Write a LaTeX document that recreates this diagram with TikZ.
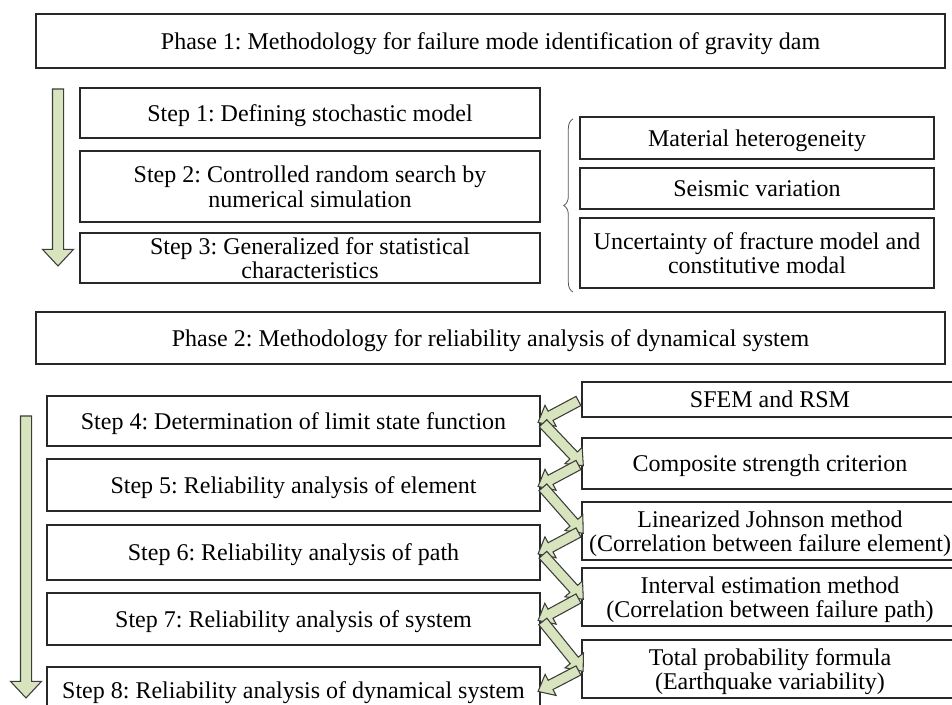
\documentclass[tikz,border=0pt]{standalone}
\usepackage{fontspec}
\setmainfont{Liberation Serif}
\usetikzlibrary{shapes.arrows,calc,decorations.pathreplacing}
\definecolor{arrgreen}{RGB}{215,228,189}
\definecolor{arrline}{RGB}{60,60,60}
\definecolor{boxline}{RGB}{40,40,40}
\tikzset{
  box/.style={draw=boxline, line width=1.2pt, fill=white, inner sep=0pt, text depth=0pt, align=center, font=\fontsize{18}{18.5}\selectfont},
  fatarrow/.style={single arrow, draw=arrline, fill=arrgreen, line width=0.8pt, inner xsep=0pt, inner ysep=3.5pt, single arrow head extend=5pt, single arrow tip angle=80},
  longarrow/.style={fatarrow, inner ysep=3.75pt, single arrow head extend=7.5pt, single arrow tip angle=86},
  bracket/.style={draw=black!65, line width=0.6pt, decorate, decoration={brace, amplitude=7pt}}
}
% fat arrow from #2 to #3, length and angle taken on the canvas (y is flipped)
\newcommand{\fatarr}[3][fatarrow]{\path let \p1=(#2), \p2=(#3), \n1={veclen(\x2-\x1,\y2-\y1)}, \n2={-atan2(\y2-\y1,\x2-\x1)} in node [#1, minimum height=\n1, rotate=\n2] at ($(#2)!0.5!(#3)$) {};}
\frenchspacing
\begin{document}
\begin{tikzpicture}[x=0.75pt,y=0.75pt,yscale=-1,xscale=1]
        \useasboundingbox (0,0) rectangle (952,704);
        % Phase 1
        \draw (490.5,41) node [box, minimum width=681.75pt, minimum height=40.5pt] (phase1) {Phase 1: Methodology for failure mode identification of gravity dam};
        % Steps 1-3
        \draw (310,113) node [box, minimum width=345pt, minimum height=37.5pt] (step1) {Step 1: Defining stochastic model};
        \draw (310,186.5) node [box, minimum width=345pt, minimum height=53.25pt] (step2) {Step 2: Controlled random search by\\numerical simulation};
        \draw (310,258) node [box, minimum width=345pt, minimum height=37.5pt] (step3) {Step 3: Generalized for statistical\\characteristics};
        % Sources of uncertainty
        \draw (757,138) node [box, minimum width=265.5pt, minimum height=31.5pt] (material) {Material heterogeneity};
        \draw (757,188.5) node [box, minimum width=265.5pt, minimum height=30.75pt] (seismic) {Seismic variation};
        \draw (757,253) node [box, minimum width=265.5pt, minimum height=52.5pt] (fracture) {Uncertainty of fracture model and\\constitutive modal};
        \draw [bracket] (573,292) -- (573,119);
        % Phase 2
        \draw (490.5,338) node [box, minimum width=681.75pt, minimum height=39pt] (phase2) {Phase 2: Methodology for reliability analysis of dynamical system};
        % Steps 4-8
        \draw (293.5,421) node [box, minimum width=369.75pt, minimum height=37.5pt] (step4) {Step 4: Determination of limit state function};
        \draw (293.5,485) node [box, minimum width=369.75pt, minimum height=39pt] (step5) {Step 5: Reliability analysis of element};
        \draw (293.5,552.5) node [box, minimum width=369.75pt, minimum height=41.25pt] (step6) {Step 6: Reliability analysis of path};
        \draw (293.5,619) node [box, minimum width=369.75pt, minimum height=39pt] (step7) {Step 7: Reliability analysis of system};
        \draw (293.5,690) node [box, minimum width=369.75pt, minimum height=34.5pt] (step8) {Step 8: Reliability analysis of dynamical system};
        % Methods
        \draw (770,399.5) node [box, minimum width=282pt, minimum height=26.25pt] (sfem) {SFEM and RSM};
        \draw (770,463.5) node [box, minimum width=282pt, minimum height=38.25pt] (strength) {Composite strength criterion};
        \draw (770,531) node [box, minimum width=282pt, minimum height=43.5pt] (johnson) {Linearized Johnson method\\(Correlation between failure element)};
        \draw (770,597) node [box, minimum width=282pt, minimum height=43.5pt] (interval) {Interval estimation method\\(Correlation between failure path)};
        \draw (770,669) node [box, minimum width=282pt, minimum height=43.5pt] (totalprob) {Total probability formula\\(Earthquake variability)};
        % Flow arrows
        \coordinate (a1top) at (58,86);
        \coordinate (a1tip) at (58,263);
        \coordinate (a2top) at (26,413);
        \coordinate (a2tip) at (26,695);
        \fatarr[longarrow]{a1top}{a1tip}
        \fatarr[longarrow]{a2top}{a2tip}
        \fatarr{sfem.west}{step4.east}
        \fatarr{step4.east}{strength.west}
        \fatarr{strength.west}{step5.east}
        \fatarr{step5.east}{johnson.west}
        \fatarr{johnson.west}{step6.east}
        \fatarr{step6.east}{interval.west}
        \fatarr{interval.west}{step7.east}
        \fatarr{step7.east}{totalprob.west}
        \fatarr{totalprob.west}{step8.east}
\end{tikzpicture}
\end{document}
